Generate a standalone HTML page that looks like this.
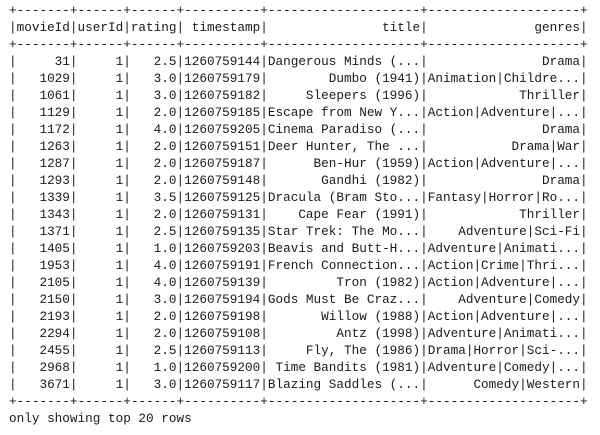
<!DOCTYPE html>
<html><head><meta charset="utf-8"><style>
html,body{margin:0;padding:0;background:#fff;width:600px;height:435px;overflow:hidden}
pre{margin:0;position:absolute;left:9px;top:2px;font-family:"Liberation Mono",monospace;font-size:12.7px;line-height:17px;color:#1a1a1a;white-space:pre}
</style></head><body>
<pre>+-------+------+------+----------+--------------------+--------------------+
|movieId|userId|rating| timestamp|               title|              genres|
+-------+------+------+----------+--------------------+--------------------+
|     31|     1|   2.5|1260759144|Dangerous Minds (...|               Drama|
|   1029|     1|   3.0|1260759179|        Dumbo (1941)|Animation|Childre...|
|   1061|     1|   3.0|1260759182|     Sleepers (1996)|            Thriller|
|   1129|     1|   2.0|1260759185|Escape from New Y...|Action|Adventure|...|
|   1172|     1|   4.0|1260759205|Cinema Paradiso (...|               Drama|
|   1263|     1|   2.0|1260759151|Deer Hunter, The ...|           Drama|War|
|   1287|     1|   2.0|1260759187|      Ben-Hur (1959)|Action|Adventure|...|
|   1293|     1|   2.0|1260759148|       Gandhi (1982)|               Drama|
|   1339|     1|   3.5|1260759125|Dracula (Bram Sto...|Fantasy|Horror|Ro...|
|   1343|     1|   2.0|1260759131|    Cape Fear (1991)|            Thriller|
|   1371|     1|   2.5|1260759135|Star Trek: The Mo...|    Adventure|Sci-Fi|
|   1405|     1|   1.0|1260759203|Beavis and Butt-H...|Adventure|Animati...|
|   1953|     1|   4.0|1260759191|French Connection...|Action|Crime|Thri...|
|   2105|     1|   4.0|1260759139|         Tron (1982)|Action|Adventure|...|
|   2150|     1|   3.0|1260759194|Gods Must Be Craz...|    Adventure|Comedy|
|   2193|     1|   2.0|1260759198|       Willow (1988)|Action|Adventure|...|
|   2294|     1|   2.0|1260759108|         Antz (1998)|Adventure|Animati...|
|   2455|     1|   2.5|1260759113|     Fly, The (1986)|Drama|Horror|Sci-...|
|   2968|     1|   1.0|1260759200| Time Bandits (1981)|Adventure|Comedy|...|
|   3671|     1|   3.0|1260759117|Blazing Saddles (...|      Comedy|Western|
+-------+------+------+----------+--------------------+--------------------+
only showing top 20 rows</pre>
</body></html>
